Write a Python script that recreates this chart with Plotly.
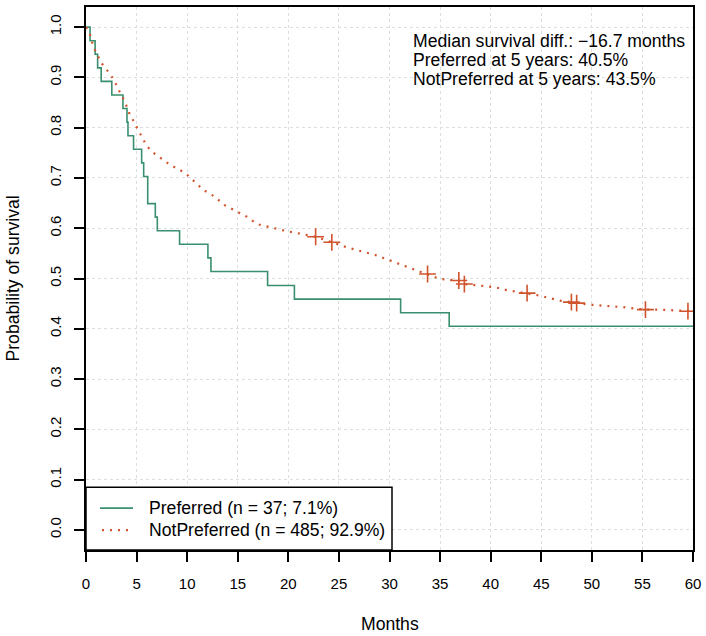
import plotly.graph_objects as go

# ---- data ----
pref_time = [0, 0.4, 0.9, 1.15, 1.5, 2.55, 3.65, 4.05, 4.15, 4.7, 5.5, 5.7, 6.1,
             6.85, 7.05, 9.25, 12.05, 12.35, 17.95, 20.6, 31.1, 35.9, 60]
pref_surv = [1.000, 0.973, 0.946, 0.919, 0.892, 0.865, 0.838, 0.811, 0.784, 0.757,
             0.730, 0.703, 0.649, 0.622, 0.595, 0.568, 0.541, 0.514, 0.486, 0.459,
             0.432, 0.405, 0.405]

notpref_time = [0, 0.33, 0.75, 1.51, 2.33, 2.73, 3.39, 3.81, 4.27, 4.87, 5.52, 6.02,
                6.67, 8.25, 9.8, 10.72, 11.61, 12.7, 13.68, 14.74, 15.89, 16.94,
                18.29, 19.67, 22.7, 24.3, 25.77, 28.56, 31.69, 33.76, 34.98, 36.85,
                37.4, 38.92, 40.57, 41.56, 43.6, 44.85, 46.82, 47.98, 48.5, 49.78,
                53.07, 55.3, 56.69, 58.67, 59.5, 60]
notpref_surv = [1.000, 0.990, 0.960, 0.929, 0.908, 0.896, 0.869, 0.853, 0.829, 0.806,
                0.780, 0.763, 0.750, 0.727, 0.710, 0.693, 0.676, 0.663, 0.646, 0.635,
                0.623, 0.608, 0.601, 0.595, 0.583, 0.572, 0.562, 0.547, 0.524, 0.509,
                0.499, 0.496, 0.489, 0.486, 0.482, 0.477, 0.471, 0.466, 0.456, 0.453,
                0.451, 0.448, 0.443, 0.438, 0.438, 0.436, 0.435, 0.435]

cens_time = [22.7, 24.3, 33.76, 36.85, 37.4, 43.6, 47.98, 48.5, 55.3, 59.5]
cens_surv = [0.583, 0.572, 0.509, 0.496, 0.489, 0.471, 0.453, 0.451, 0.438, 0.435]

x_ticks = [0, 5, 10, 15, 20, 25, 30, 35, 40, 45, 50, 55, 60]
y_ticks = [0.0, 0.1, 0.2, 0.3, 0.4, 0.5, 0.6, 0.7, 0.8, 0.9, 1.0]
y_ticktext = ["0.0", "0.1", "0.2", "0.3", "0.4", "0.5", "0.6", "0.7", "0.8", "0.9", "1.0"]

legend_labels = ["Preferred (n = 37; 7.1%)", "NotPreferred (n = 485; 92.9%)"]
info_lines = ["Median survival diff.: \u221216.7 months",
              "Preferred at 5 years: 40.5%",
              "NotPreferred at 5 years: 43.5%"]

GREEN = "#3a8f6e"
ORANGE = "#d0532c"
GRID = "#dedede"
FONT = "Liberation Sans, Arial, Helvetica, sans-serif"
TXT = 17.6

fig = go.Figure()
fig.add_trace(go.Scatter(x=pref_time, y=pref_surv, mode="lines", line_shape="hv",
                         line=dict(color=GREEN, width=1.6), showlegend=False,
                         hoverinfo="skip"))
fig.add_trace(go.Scatter(x=notpref_time, y=notpref_surv, mode="lines",
                         line=dict(color=ORANGE, width=2.2, dash="2px,6px"),
                         showlegend=False, hoverinfo="skip"))
fig.add_trace(go.Scatter(x=cens_time, y=cens_surv, mode="markers",
                         marker=dict(symbol="cross-thin", size=12,
                                     line=dict(color=ORANGE, width=1.6)),
                         showlegend=False, hoverinfo="skip"))

# plot region in pixels: x 86..693, y 5..550
PW, PH = 607.0, 545.0
def px(x):
    return (x - 86) / PW
def py(y):
    return (550 - y) / PH

shapes = []
annotations = []
# legend box
shapes.append(dict(type="rect", xref="paper", yref="paper", x0=px(86), x1=px(392),
                   y0=py(550), y1=py(487), line=dict(color="black", width=1.5),
                   fillcolor="white", layer="above"))
shapes.append(dict(type="line", xref="paper", yref="paper", x0=px(100), x1=px(133),
                   y0=py(508), y1=py(508), line=dict(color=GREEN, width=1.6),
                   layer="above"))
shapes.append(dict(type="line", xref="paper", yref="paper", x0=px(102), x1=px(133),
                   y0=py(530), y1=py(530), line=dict(color=ORANGE, width=2.2,
                                                     dash="2px,6px"),
                   layer="above"))
for lab, yy in zip(legend_labels, [508, 530]):
    annotations.append(dict(text=lab, xref="paper", yref="paper", x=px(147), y=py(yy),
                            xanchor="left", yanchor="middle", showarrow=False,
                            font=dict(size=TXT, color="black", family=FONT)))
for lab, yy in zip(info_lines, [39, 58.5, 77.5]):
    annotations.append(dict(text=lab, xref="paper", yref="paper", x=px(411), y=py(yy),
                            xanchor="left", yanchor="middle", showarrow=False,
                            font=dict(size=TXT, color="black", family=FONT)))
annotations.append(dict(text="Months", xref="paper", yref="paper", x=0.5, y=py(624),
                        xanchor="center", yanchor="middle", showarrow=False,
                        font=dict(size=TXT, color="black", family=FONT)))
annotations.append(dict(text="Probability of survival", xref="paper", yref="paper",
                        x=px(12), y=0.5, xanchor="center", yanchor="middle",
                        textangle=-90, showarrow=False,
                        font=dict(size=TXT, color="black", family=FONT)))

fig.update_layout(
    width=706, height=636,
    margin=dict(l=86, r=13, t=5, b=86, pad=0),
    plot_bgcolor="white", paper_bgcolor="white",
    font=dict(family=FONT, color="black"),
    shapes=shapes, annotations=annotations,
    xaxis=dict(range=[0, 60], tickvals=x_ticks, ticks="outside", ticklen=10,
               tickwidth=1.5, tickcolor="black", showline=True, linecolor="black",
               linewidth=1.5, mirror=True, showgrid=True, gridcolor=GRID,
               griddash="dot", gridwidth=1, zeroline=False, ticklabelstandoff=9,
               tickfont=dict(size=15, family=FONT, color="black")),
    yaxis=dict(range=[-0.04, 1.04], tickvals=y_ticks, ticktext=y_ticktext,
               ticks="outside", ticklen=10, tickwidth=1.5, tickcolor="black",
               showline=True, linecolor="black", linewidth=1.5, mirror=True,
               showgrid=True, gridcolor=GRID, griddash="dot", gridwidth=1,
               zeroline=False, tickangle=-90, ticklabelstandoff=7,
               tickfont=dict(size=15, family=FONT, color="black")),
)

fig.write_html("out.html", config={"displayModeBar": False},
               post_script="document.body.style.margin='0';document.body.style.overflow='hidden';")
